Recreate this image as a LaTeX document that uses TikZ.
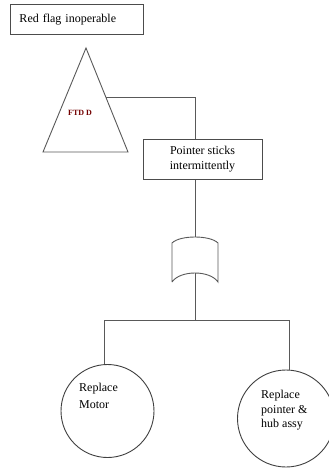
\documentclass[tikz,border=0pt]{standalone}
\usepackage{fontspec}
\setmainfont{Liberation Serif}
\usetikzlibrary{calc}
\begin{document}
\begin{tikzpicture}[x=1pt,y=-1pt,
  line/.style={draw=black!65, line width=0.9pt},
  txt/.style={font=\fontsize{12}{14.5}\selectfont, inner sep=0pt, align=left},
  boxnode/.style={draw=black!70, line width=1pt, inner sep=0pt}]
\useasboundingbox (0,0) rectangle (329,469);
\fill[white] (0,0) rectangle (329,469);
% top event box
\node[boxnode, minimum width=133pt, minimum height=30pt, anchor=north west,
      font=\fontsize{12}{14.5}\selectfont, text width=115pt, align=left, inner xsep=9pt] (top) at (10,4) {Red flag inoperable};
% transfer triangle
\coordinate (tA) at (86,48);
\coordinate (tL) at (43,152);
\coordinate (tR) at (128,152);
\draw[line] (tA) -- (tL) -- (tR) -- cycle;
\node[font=\fontsize{8}{9}\selectfont\bfseries, text=red!45!black, inner sep=0pt] (ftd) at (80,113) {FTD D};
\coordinate (tside) at ($(tA)!0.471!(tR)$);
% intermediate event
\node[boxnode, minimum width=119pt, minimum height=40pt, font=\fontsize{12}{14.5}\selectfont, align=center] (mid) at (202.5,159) {Pointer sticks\\intermittently};
% gate
\coordinate (gtop) at (195,237);
\coordinate (gbot) at (195,273);
\draw[line] (172,282) -- (172,243) .. controls (180,235) and (210,235) .. (218,243) -- (218,282) .. controls (210,270) and (180,270) .. (172,282);
% circles
\node[draw=black!75, line width=0.9pt, circle, minimum size=93pt, inner sep=0pt] (c1) at (107.5,411) {};
\node[draw=black!75, line width=0.9pt, circle, minimum size=97pt, inner sep=0pt] (c2) at (286,418.5) {};
\node[font=\fontsize{12}{17}\selectfont, inner sep=0pt, align=left, anchor=north west] (t1) at (79,383) {Replace\\Motor};
\node[txt, anchor=north west] (t2) at (261,390) {Replace\\pointer \&\\hub assy};
% connectors
\coordinate (bar) at (195,320);
\coordinate (barL) at (104,320);
\coordinate (barR) at (289,320);
\draw[line] (tside) -- (tside -| gtop) -- (gtop |- mid.north);
\draw[line] (gtop |- mid.south) -- (gtop);
\draw[line] (gbot) -- (bar);
\draw[line] (barL) -- (barR);
\draw[line] (barL) -- (barL |- c1.north);
\draw[line] (barR) -- (289,370);
\end{tikzpicture}
\end{document}
